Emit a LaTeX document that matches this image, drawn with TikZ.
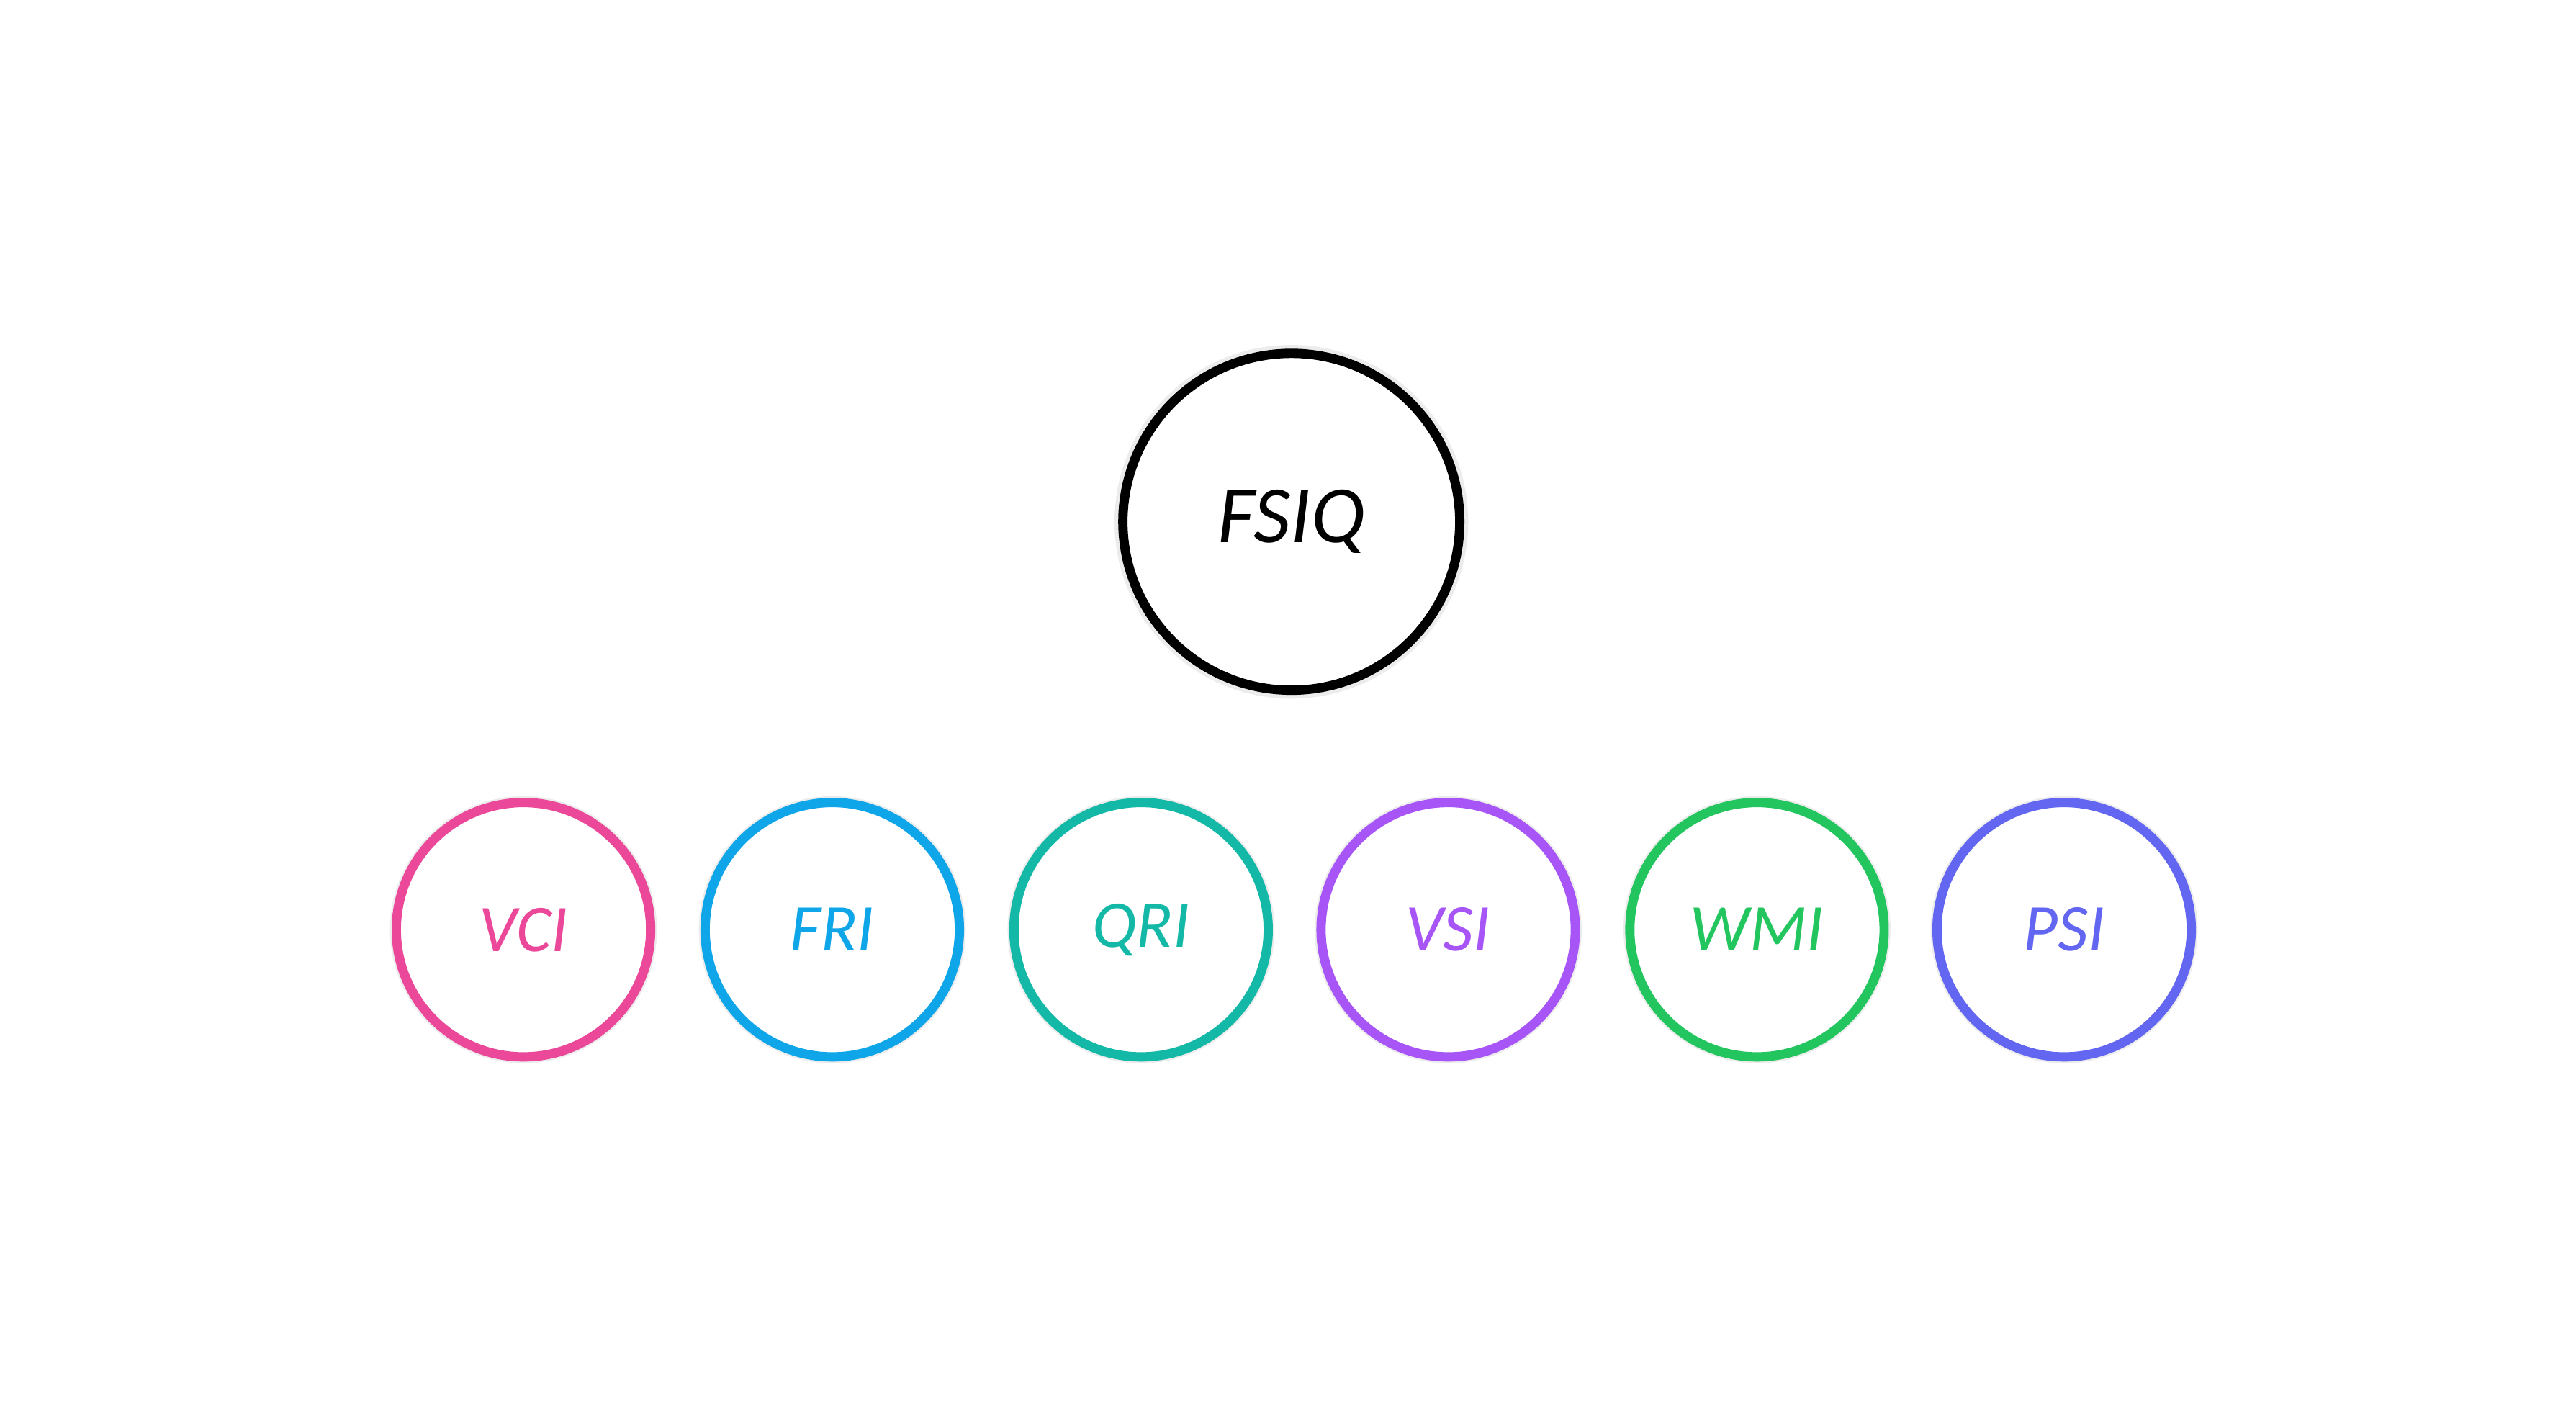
\documentclass[tikz,border=0pt]{standalone}
\usepackage{fontspec}
\setmainfont{Carlito}
\usetikzlibrary{shadows}
\definecolor{vcicol}{HTML}{EC4899}
\definecolor{fricol}{HTML}{0EA5E9}
\definecolor{qricol}{HTML}{14B8A6}
\definecolor{vsicol}{HTML}{A855F7}
\definecolor{wmicol}{HTML}{22C55E}
\definecolor{psicol}{HTML}{6366F1}
\begin{document}
\begin{tikzpicture}[line width=1.6pt]
	\tikzstyle{score}=[circle, draw, fill=white, inner sep=0pt,
		drop shadow={shadow xshift=0pt, shadow yshift=0pt, shadow scale=1.05,
			opacity=0.15, fill=gray},
		font=\itshape]
	\tikzstyle{index}=[score, minimum size=1.54cm, font=\itshape\fontsize{11.5}{13}\selectfont]
	\useasboundingbox (0,0) rectangle (15.6,8.5);
	% % Nodes
	% full scale
	\node[score, minimum size=2.04cm, font=\itshape\fontsize{14}{16}\selectfont] (fsiq) at (7.82,5.34) {FSIQ};
	% index scores
	\foreach \name/\x/\col in {VCI/3.17/vcicol, FRI/5.04/fricol, QRI/6.91/qricol,
		VSI/8.77/vsicol, WMI/10.64/wmicol, PSI/12.50/psicol}
		\node[index, draw=\col, text=\col] (\name) at (\x,2.87) {\name};
\end{tikzpicture}
\end{document}
